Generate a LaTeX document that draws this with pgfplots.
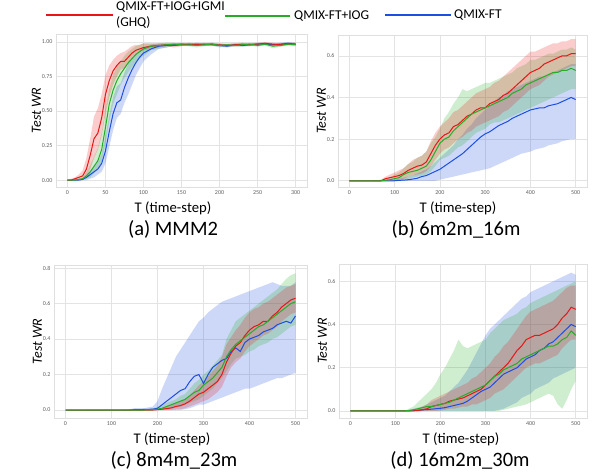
\documentclass[border=0pt]{standalone}
\usepackage{fontspec}
\setmainfont{Carlito}
\usepackage{pgfplots}
\usepackage{pgfplotstable}
\pgfplotsset{compat=1.18}

\definecolor{cr}{RGB}{232,22,22}
\definecolor{cg}{RGB}{38,172,38}
\definecolor{cb}{RGB}{28,78,225}

% t, red mean/low/high, green mean/low/high, blue mean/low/high
\pgfplotstableread{
t   rm    rl    rh    gm    gl    gh    bm    bl    bh
0   0     0     0     0     0     0     0     0     0
5   0     0     0.01  0     0     0     0     0     0
10  0.01  0     0.02  0     0     0.01  0     0     0
15  0.02  0     0.04  0.005 0     0.01  0     0     0.01
20  0.03  0.01  0.07  0.01  0     0.02  0.005 0     0.01
25  0.08  0.03  0.16  0.03  0.01  0.06  0.02  0     0.04
30  0.18  0.08  0.30  0.06  0.02  0.11  0.04  0.01  0.07
35  0.30  0.16  0.46  0.10  0.05  0.17  0.06  0.02  0.10
40  0.34  0.22  0.52  0.14  0.08  0.23  0.08  0.04  0.13
45  0.45  0.32  0.62  0.22  0.13  0.34  0.12  0.06  0.19
50  0.62  0.48  0.76  0.38  0.26  0.52  0.21  0.12  0.32
55  0.72  0.60  0.83  0.55  0.42  0.66  0.35  0.24  0.47
60  0.79  0.69  0.87  0.65  0.55  0.76  0.48  0.36  0.60
65  0.83  0.75  0.90  0.72  0.62  0.82  0.56  0.45  0.68
70  0.86  0.80  0.92  0.77  0.69  0.86  0.58  0.48  0.70
75  0.86  0.81  0.93  0.81  0.74  0.90  0.67  0.56  0.78
80  0.89  0.84  0.95  0.85  0.78  0.93  0.74  0.62  0.84
85  0.92  0.88  0.97  0.88  0.82  0.95  0.80  0.69  0.88
90  0.94  0.91  0.98  0.91  0.85  0.97  0.85  0.76  0.91
95  0.95  0.93  0.98  0.93  0.88  0.98  0.89  0.81  0.94
100 0.96  0.94  0.99  0.95  0.90  0.99  0.92  0.86  0.96
110 0.97  0.95  0.99  0.97  0.94  0.99  0.95  0.91  0.98
120 0.975 0.96  0.99  0.975 0.95  0.99  0.97  0.95  0.99
130 0.98  0.97  0.99  0.98  0.96  0.995 0.975 0.96  0.99
140 0.975 0.96  0.99  0.985 0.97  0.995 0.98  0.97  0.99
150 0.98  0.97  0.99  0.98  0.97  0.99  0.985 0.975 0.995
160 0.985 0.975 0.995 0.98  0.97  0.99  0.98  0.97  0.99
170 0.98  0.97  0.99  0.975 0.96  0.99  0.985 0.975 0.995
180 0.985 0.975 0.995 0.98  0.97  0.99  0.98  0.97  0.99
190 0.98  0.97  0.99  0.985 0.975 0.995 0.985 0.975 0.995
200 0.98  0.97  0.99  0.975 0.96  0.99  0.975 0.965 0.985
210 0.975 0.965 0.985 0.98  0.97  0.99  0.97  0.96  0.985
220 0.98  0.97  0.99  0.975 0.965 0.99  0.98  0.97  0.99
230 0.985 0.975 0.995 0.98  0.97  0.99  0.975 0.965 0.985
240 0.98  0.97  0.99  0.985 0.975 0.995 0.98  0.97  0.99
250 0.985 0.975 0.995 0.975 0.965 0.99  0.985 0.975 0.995
260 0.99  0.98  1.0   0.985 0.975 0.995 0.985 0.975 0.995
270 0.985 0.97  0.995 0.97  0.955 0.985 0.98  0.97  0.99
280 0.98  0.97  0.99  0.975 0.965 0.99  0.985 0.975 0.995
290 0.985 0.975 0.995 0.985 0.975 0.995 0.99  0.98  1.0
300 0.985 0.975 0.995 0.98  0.97  0.99  0.985 0.975 0.995
}\tA

\pgfplotstableread{
t   rm    rl    rh    gm    gl    gh    bm    bl    bh
0   0     0     0     0     0     0     0     0     0
50  0     0     0     0     0     0     0     0     0
70  0     0     0.005 0     0     0.005 0     0     0
80  0.01  0     0.02  0.003 0     0.01  0     0     0
90  0.015 0     0.03  0.005 0     0.015 0     0     0
100 0.02  0     0.04  0.01  0     0.03  0     0     0.005
110 0.025 0.005 0.05  0.015 0     0.04  0.002 0     0.01
120 0.035 0.01  0.06  0.03  0.005 0.06  0.003 0     0.015
130 0.05  0.02  0.08  0.04  0.01  0.08  0.005 0     0.02
140 0.06  0.025 0.10  0.045 0.015 0.09  0.008 0     0.025
150 0.07  0.03  0.11  0.05  0.02  0.11  0.012 0     0.035
160 0.075 0.035 0.12  0.06  0.025 0.12  0.02  0     0.045
170 0.09  0.045 0.14  0.07  0.03  0.14  0.025 0     0.055
180 0.13  0.07  0.19  0.10  0.045 0.18  0.035 0     0.07
190 0.17  0.10  0.23  0.14  0.07  0.21  0.045 0     0.09
200 0.20  0.13  0.26  0.18  0.10  0.25  0.055 0.005 0.11
210 0.22  0.15  0.28  0.20  0.11  0.30  0.07  0.01  0.13
220 0.23  0.16  0.30  0.21  0.12  0.33  0.085 0.015 0.15
230 0.26  0.18  0.33  0.24  0.14  0.37  0.10  0.02  0.17
240 0.27  0.20  0.34  0.26  0.16  0.40  0.115 0.025 0.20
250 0.29  0.21  0.36  0.28  0.17  0.44  0.13  0.03  0.22
260 0.31  0.23  0.38  0.30  0.19  0.43  0.15  0.035 0.25
270 0.32  0.24  0.40  0.32  0.21  0.44  0.17  0.04  0.27
280 0.34  0.26  0.42  0.33  0.23  0.45  0.19  0.045 0.30
290 0.35  0.27  0.43  0.34  0.24  0.46  0.21  0.05  0.32
300 0.35  0.28  0.44  0.35  0.25  0.47  0.225 0.055 0.34
310 0.37  0.29  0.45  0.36  0.27  0.47  0.235 0.06  0.36
320 0.38  0.30  0.47  0.37  0.28  0.48  0.25  0.07  0.38
330 0.39  0.31  0.48  0.38  0.28  0.49  0.265 0.08  0.40
340 0.41  0.33  0.50  0.39  0.29  0.50  0.275 0.09  0.41
350 0.42  0.34  0.52  0.40  0.30  0.51  0.285 0.10  0.43
360 0.44  0.36  0.54  0.42  0.31  0.52  0.30  0.11  0.44
370 0.46  0.38  0.56  0.43  0.32  0.54  0.31  0.12  0.45
380 0.48  0.40  0.58  0.44  0.33  0.55  0.32  0.13  0.46
390 0.50  0.42  0.60  0.46  0.34  0.56  0.33  0.135 0.47
400 0.52  0.44  0.62  0.47  0.35  0.58  0.34  0.14  0.48
410 0.53  0.45  0.62  0.48  0.36  0.58  0.345 0.15  0.49
420 0.54  0.46  0.63  0.49  0.37  0.59  0.35  0.155 0.50
430 0.56  0.48  0.64  0.50  0.38  0.60  0.35  0.16  0.50
440 0.57  0.50  0.65  0.51  0.39  0.61  0.36  0.17  0.51
450 0.58  0.51  0.66  0.52  0.40  0.61  0.365 0.175 0.52
460 0.59  0.52  0.66  0.52  0.41  0.62  0.37  0.18  0.53
470 0.60  0.53  0.67  0.53  0.42  0.63  0.38  0.19  0.54
480 0.60  0.54  0.67  0.53  0.43  0.63  0.39  0.195 0.55
490 0.61  0.55  0.68  0.54  0.44  0.64  0.40  0.20  0.56
500 0.61  0.55  0.68  0.53  0.44  0.63  0.39  0.20  0.56
}\tB

\pgfplotstableread{
t   rm    rl    rh    gm    gl    gh    bm    bl    bh
0   0     0     0     0     0     0     0     0     0
140 0     0     0     0     0     0     0     0     0.005
150 0     0     0     0     0     0     0.002 0     0.01
170 0     0     0     0     0     0     0.003 0     0.01
190 0     0     0.003 0.002 0     0.01  0.005 0     0.02
200 0.002 0     0.005 0.005 0     0.015 0.01  0     0.05
210 0.005 0     0.01  0.01  0     0.025 0.03  0     0.12
220 0.008 0     0.02  0.02  0.003 0.04  0.05  0     0.18
230 0.012 0     0.03  0.03  0.008 0.05  0.07  0     0.24
240 0.02  0.003 0.04  0.04  0.015 0.06  0.09  0     0.30
250 0.025 0.005 0.05  0.05  0.02  0.08  0.11  0     0.34
260 0.035 0.01  0.06  0.06  0.03  0.09  0.12  0.005 0.38
270 0.05  0.02  0.08  0.08  0.04  0.12  0.16  0.01  0.42
280 0.07  0.03  0.11  0.10  0.05  0.15  0.19  0.02  0.46
290 0.09  0.04  0.14  0.11  0.06  0.17  0.20  0.03  0.50
300 0.10  0.05  0.16  0.14  0.08  0.20  0.15  0.03  0.52
310 0.12  0.06  0.19  0.16  0.10  0.22  0.20  0.04  0.55
320 0.14  0.08  0.22  0.18  0.12  0.25  0.24  0.05  0.57
330 0.16  0.10  0.25  0.21  0.15  0.28  0.26  0.06  0.59
340 0.20  0.13  0.30  0.24  0.18  0.31  0.28  0.07  0.61
350 0.27  0.19  0.37  0.30  0.22  0.40  0.29  0.08  0.62
360 0.32  0.24  0.41  0.34  0.26  0.45  0.33  0.09  0.63
370 0.36  0.27  0.45  0.37  0.29  0.50  0.35  0.10  0.64
380 0.38  0.29  0.48  0.39  0.30  0.52  0.33  0.11  0.65
390 0.42  0.33  0.52  0.41  0.31  0.54  0.38  0.12  0.66
400 0.45  0.36  0.55  0.43  0.33  0.56  0.40  0.12  0.67
410 0.47  0.38  0.57  0.45  0.34  0.58  0.41  0.13  0.68
420 0.48  0.40  0.58  0.47  0.36  0.60  0.42  0.14  0.69
430 0.50  0.42  0.60  0.48  0.37  0.62  0.44  0.15  0.70
440 0.50  0.43  0.61  0.50  0.38  0.64  0.45  0.16  0.71
450 0.53  0.45  0.63  0.52  0.40  0.66  0.46  0.17  0.72
460 0.55  0.47  0.65  0.54  0.41  0.68  0.48  0.18  0.71
470 0.58  0.50  0.67  0.56  0.43  0.71  0.49  0.18  0.70
480 0.60  0.52  0.69  0.58  0.45  0.74  0.50  0.19  0.70
490 0.62  0.54  0.70  0.60  0.47  0.76  0.49  0.20  0.70
500 0.63  0.55  0.71  0.61  0.48  0.77  0.53  0.21  0.72
}\tC

\pgfplotstableread{
t   rm    rl    rh    gm    gl    gh    bm    bl    bh
0   0     0     0     0     0     0     0     0     0
120 0     0     0     0     0     0     0     0     0
130 0     0     0     0.002 0     0.01  0     0     0.005
140 0     0     0.005 0.005 0     0.02  0.002 0     0.01
150 0.002 0     0.01  0.01  0     0.04  0.003 0     0.015
160 0.005 0     0.02  0.015 0     0.06  0.005 0     0.02
170 0.01  0     0.03  0.02  0     0.08  0.006 0     0.03
180 0.02  0     0.05  0.02  0     0.10  0.008 0     0.04
190 0.025 0     0.06  0.025 0     0.13  0.01  0     0.05
200 0.03  0.002 0.07  0.03  0     0.17  0.012 0     0.06
210 0.035 0.005 0.08  0.035 0     0.20  0.015 0     0.07
220 0.045 0.01  0.09  0.04  0     0.24  0.02  0     0.09
230 0.05  0.01  0.10  0.05  0     0.28  0.025 0     0.11
240 0.055 0.015 0.11  0.06  0     0.33  0.03  0     0.13
250 0.06  0.02  0.12  0.07  0     0.30  0.035 0     0.16
260 0.07  0.02  0.13  0.08  0     0.29  0.045 0     0.19
270 0.08  0.03  0.15  0.09  0     0.30  0.06  0     0.23
280 0.09  0.03  0.16  0.10  0     0.31  0.075 0     0.27
290 0.10  0.04  0.18  0.11  0     0.32  0.09  0     0.31
300 0.12  0.05  0.20  0.12  0     0.33  0.10  0     0.35
310 0.14  0.06  0.22  0.14  0     0.36  0.11  0     0.38
320 0.16  0.08  0.25  0.16  0     0.38  0.13  0     0.40
330 0.18  0.09  0.27  0.17  0     0.40  0.15  0.005 0.42
340 0.20  0.10  0.30  0.19  0.005 0.42  0.17  0.01  0.44
350 0.22  0.12  0.32  0.20  0.01  0.43  0.18  0.02  0.46
360 0.25  0.14  0.35  0.21  0.015 0.44  0.19  0.03  0.48
370 0.28  0.16  0.38  0.22  0.02  0.45  0.20  0.04  0.50
380 0.30  0.18  0.41  0.24  0.025 0.47  0.22  0.06  0.52
390 0.33  0.20  0.44  0.25  0.03  0.48  0.24  0.07  0.53
400 0.34  0.21  0.46  0.26  0.04  0.50  0.25  0.08  0.55
410 0.35  0.22  0.47  0.27  0.05  0.51  0.26  0.10  0.56
420 0.35  0.22  0.48  0.28  0.06  0.52  0.28  0.11  0.57
430 0.36  0.23  0.49  0.29  0.07  0.53  0.29  0.12  0.58
440 0.37  0.24  0.50  0.30  0.08  0.54  0.31  0.13  0.59
450 0.38  0.25  0.51  0.30  0.07  0.55  0.32  0.15  0.60
460 0.40  0.26  0.53  0.31  0.03  0.56  0.34  0.16  0.61
470 0.43  0.29  0.55  0.33  0.01  0.57  0.36  0.17  0.62
480 0.45  0.31  0.57  0.34  0.05  0.58  0.38  0.18  0.63
490 0.48  0.33  0.58  0.37  0.10  0.59  0.40  0.19  0.64
500 0.47  0.33  0.58  0.35  0.14  0.60  0.39  0.20  0.63
}\tD

% shaded band (low..high) through stacking, then back to zero
\newcommand{\band}[3]{%
  \addplot[draw=none, stack plots=y, forget plot] table[x=t, y=#3l] {#1};
  \addplot[fill=#2, fill opacity=0.22, draw=none, stack plots=y, forget plot]
    table[x=t, y expr=\thisrow{#3h}-\thisrow{#3l}] {#1} \closedcycle;
  \addplot[draw=none, stack plots=y, forget plot] table[x=t, y expr=-\thisrow{#3h}] {#1};
}
\newcommand{\mean}[3]{\addplot[#2, line width=1pt] table[x=t, y=#3m] {#1};}
\newcommand{\allruns}[1]{%
  \band{#1}{cb}{b}\band{#1}{cg}{g}\band{#1}{cr}{r}
  \mean{#1}{cb}{b}\mean{#1}{cr}{r}\mean{#1}{cg}{g}
}

\pgfplotsset{
  panel/.style={
    scale only axis,
    axis line style={gray!25},
    grid=major, grid style={gray!22, line width=0.6pt},
    major tick length=0pt,
    tick label style={font=\fontsize{6}{6}\selectfont, text=gray!75!black},
    /pgf/number format/assume math mode=true,
    ylabel={\itshape Test WR},
    ylabel style={font=\fontsize{14}{14}\selectfont, yshift=-6pt},
    yticklabel style={/pgf/number format/.cd, fixed, fixed zerofill, precision=1},
  },
}

\begin{document}
\begin{tikzpicture}
\path[use as bounding box] (0,0) rectangle (593pt,-475pt);

% legend
\draw[draw=cr, line width=1.3pt] (46pt,-15pt) -- (113pt,-15pt);
\node[anchor=west, align=left, font=\fontsize{13.5}{16}\selectfont, inner sep=0pt] at (116pt,-15pt) {QMIX-FT+IOG+IGMI\\(GHQ)};
\draw[draw=cg, line width=1.3pt] (225pt,-16pt) -- (290pt,-16pt);
\node[anchor=west, font=\fontsize{13.5}{14}\selectfont, inner sep=0pt] at (294pt,-16pt) {QMIX-FT+IOG};
\draw[draw=cb, line width=1.3pt] (385pt,-15pt) -- (451pt,-15pt);
\node[anchor=west, font=\fontsize{13.5}{14}\selectfont, inner sep=0pt] at (454pt,-15pt) {QMIX-FT};

% (a)
\begin{axis}[panel, at={(56pt,-34pt)}, anchor=north west, width=251pt, height=153pt,
  xmin=-15, xmax=315, ymin=-0.05, ymax=1.058,
  xtick={0,50,...,300}, ytick={0,0.25,0.5,0.75,1},
  yticklabel style={/pgf/number format/.cd, fixed, fixed zerofill, precision=2}]
\allruns{\tA}
\end{axis}

% (b)
\begin{axis}[panel, at={(338pt,-35pt)}, anchor=north west, width=249pt, height=152pt,
  xmin=-25, xmax=525, ymin=-0.03, ymax=0.70,
  xtick={0,100,...,500}, ytick={0,0.2,0.4,0.6}]
\allruns{\tB}
\end{axis}

% (c)
\begin{axis}[panel, at={(54pt,-265pt)}, anchor=north west, width=253pt, height=153pt,
  xmin=-25, xmax=525, ymin=-0.045, ymax=0.817,
  xtick={0,100,...,500}, ytick={0,0.2,0.4,0.6,0.8}]
\allruns{\tC}
\end{axis}

% (d)
\begin{axis}[panel, at={(339pt,-264pt)}, anchor=north west, width=248pt, height=154pt,
  xmin=-25, xmax=525, ymin=-0.033, ymax=0.68,
  xtick={0,100,...,500}, ytick={0,0.2,0.4,0.6}]
\allruns{\tD}
\end{axis}

% axis titles and captions
\begin{scope}[every node/.style={inner sep=0pt}]
\node[font=\fontsize{14.7}{15}\selectfont] at (173pt,-208pt) {T (time-step)};
\node[font=\fontsize{20.5}{21}\selectfont] at (173pt,-229pt) {(a) MMM2};
\node[font=\fontsize{14.7}{15}\selectfont] at (458pt,-208pt) {T (time-step)};
\node[font=\fontsize{20.5}{21}\selectfont] at (456pt,-229pt) {(b) 6m2m\_16m};
\node[font=\fontsize{14.7}{15}\selectfont] at (172pt,-439pt) {T (time-step)};
\node[font=\fontsize{20.5}{21}\selectfont] at (174pt,-460pt) {(c) 8m4m\_23m};
\node[font=\fontsize{14.7}{15}\selectfont] at (461pt,-439pt) {T (time-step)};
\node[font=\fontsize{20.5}{21}\selectfont] at (460pt,-460pt) {(d) 16m2m\_30m};
\end{scope}
\end{tikzpicture}
\end{document}
